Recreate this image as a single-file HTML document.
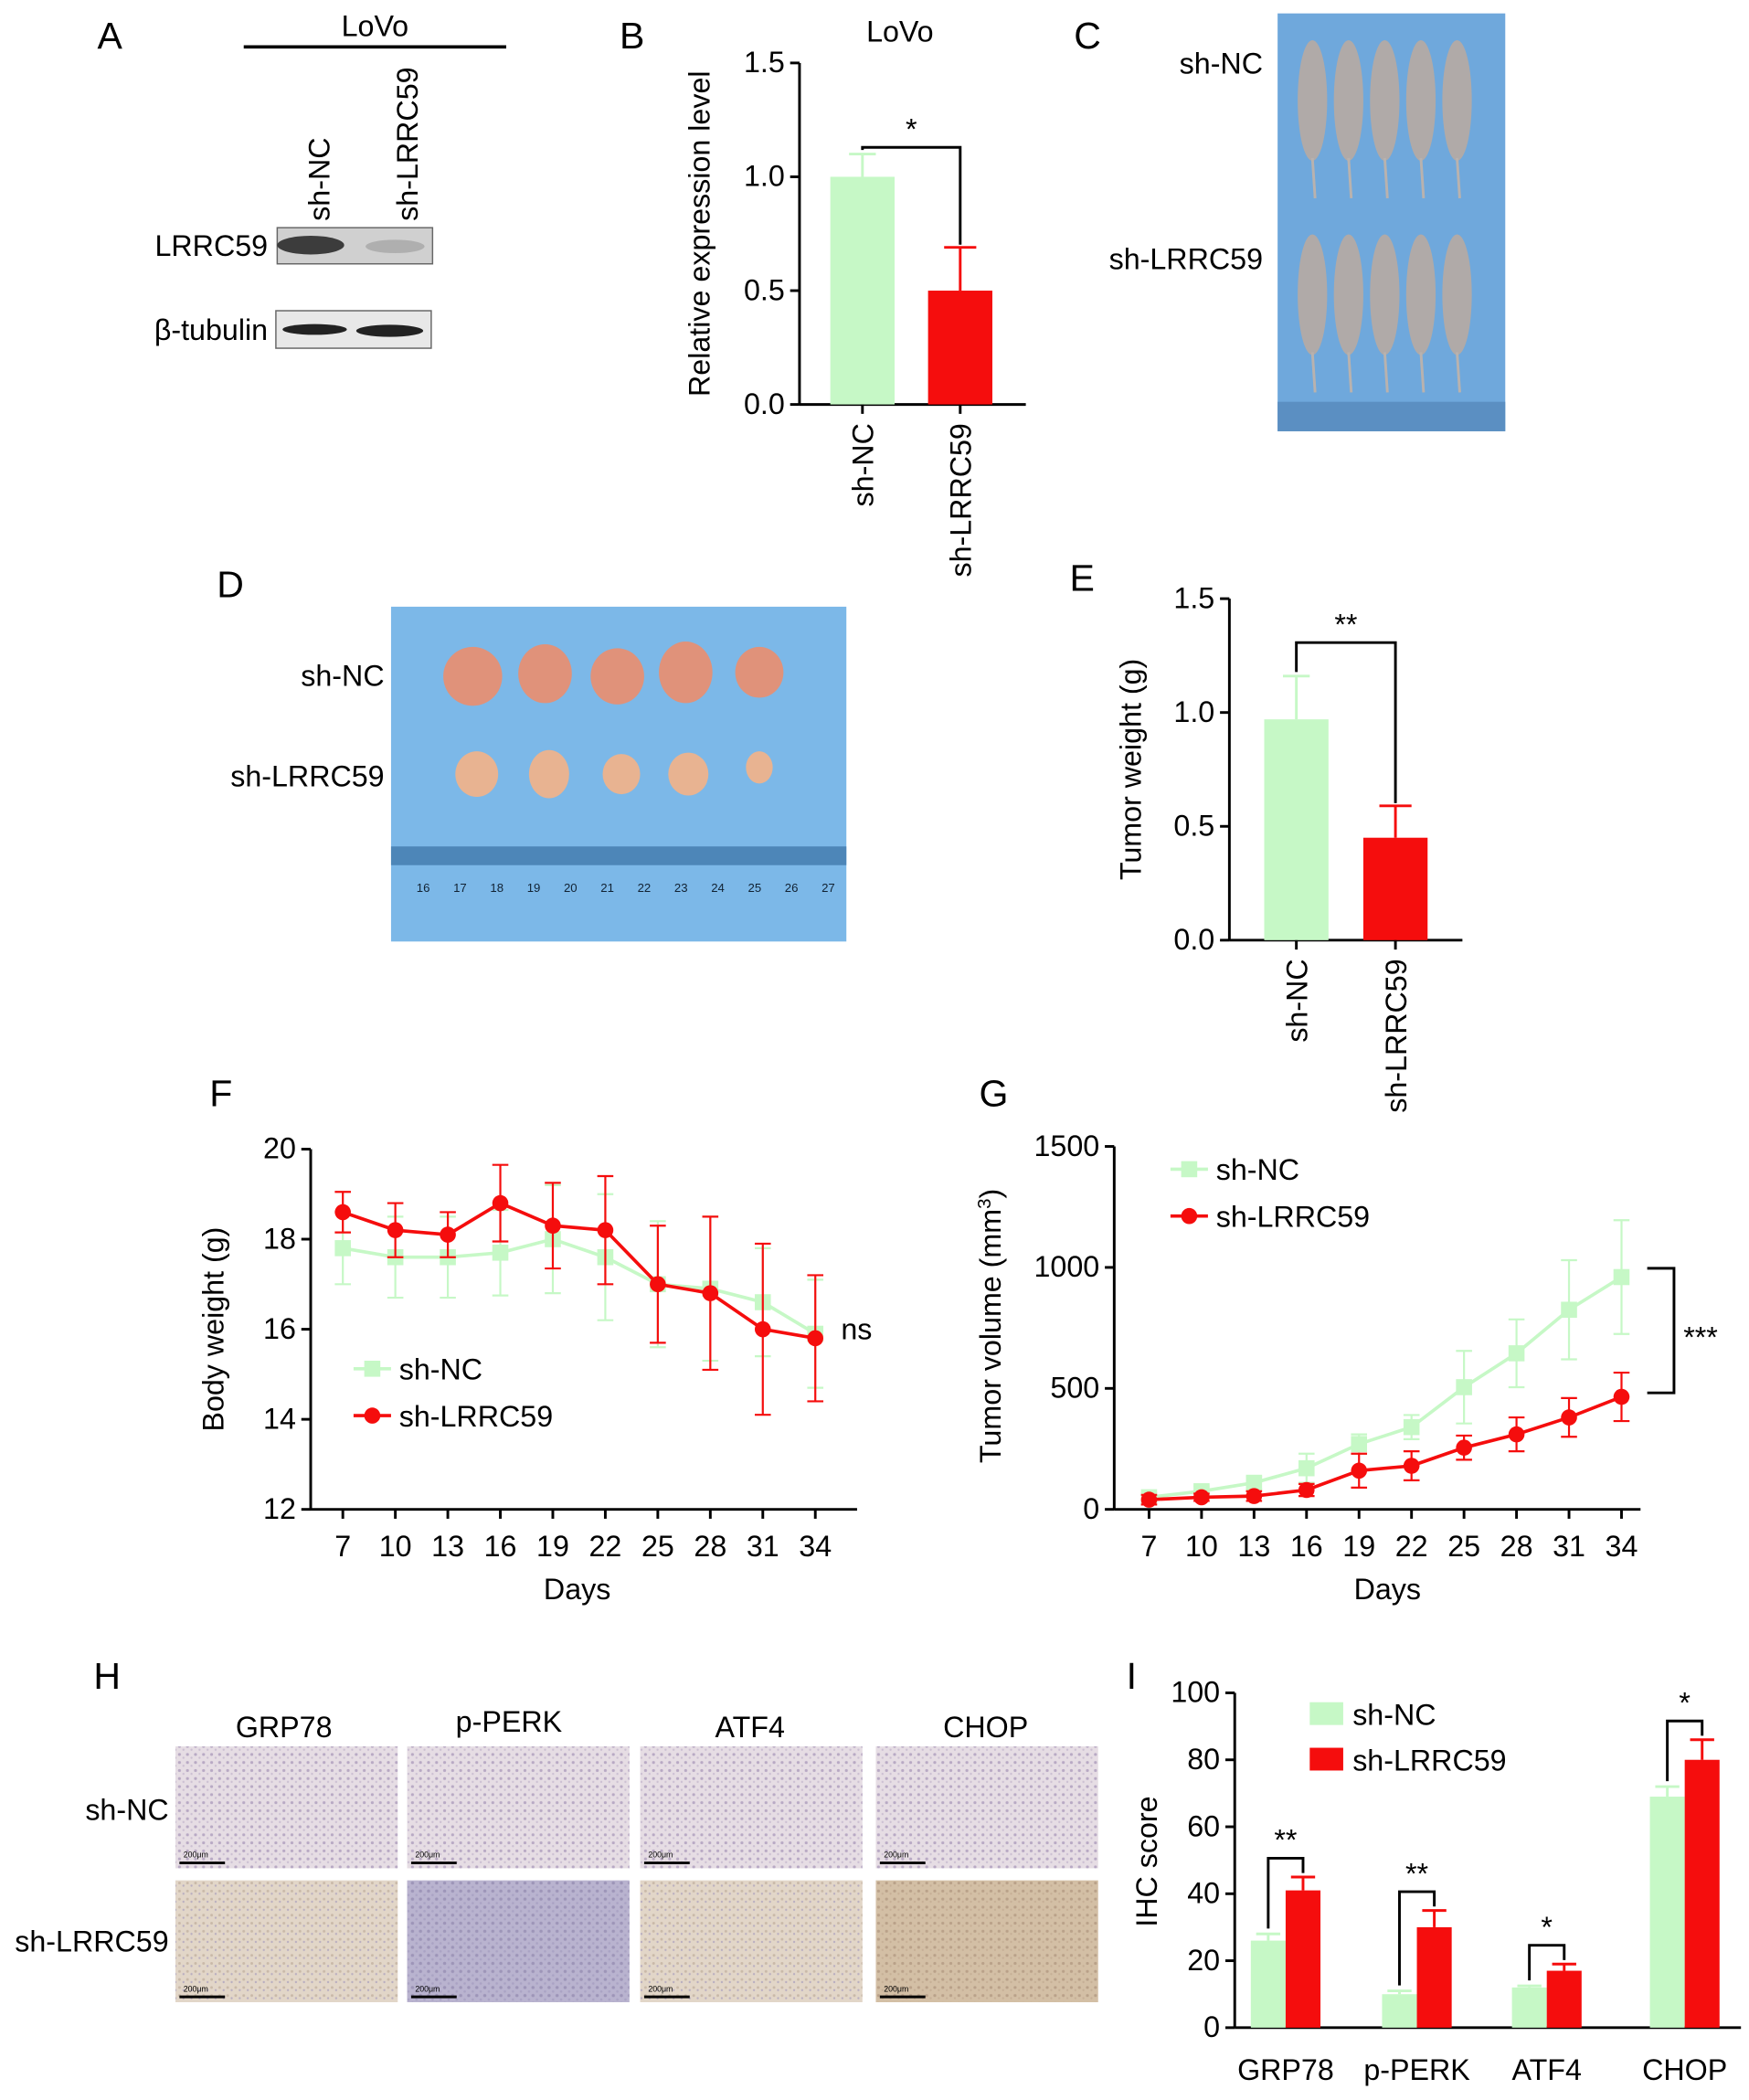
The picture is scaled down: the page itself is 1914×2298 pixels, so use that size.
<!DOCTYPE html>
<html><head><meta charset="utf-8"><style>
html,body{margin:0;padding:0;background:#fff}
svg{display:block;font-family:"Liberation Sans",sans-serif}
</style></head><body>
<svg id="fig" width="1914" height="2298" viewBox="0 0 1306 1568" xmlns="http://www.w3.org/2000/svg">
<defs>
<pattern id="tis1" width="6" height="6" patternUnits="userSpaceOnUse"><rect width="6" height="6" fill="#e6dde4"/><circle cx="2" cy="2" r="1.1" fill="#b8a9c4"/><circle cx="5" cy="4.5" r="0.8" fill="#cbbfd2"/></pattern>
<pattern id="tis2" width="6" height="6" patternUnits="userSpaceOnUse"><rect width="6" height="6" fill="#e2d6c8"/><circle cx="2" cy="2" r="1" fill="#c9b9a8"/><circle cx="5" cy="4" r="0.8" fill="#b9aec0"/></pattern>
<pattern id="tis3" width="6" height="6" patternUnits="userSpaceOnUse"><rect width="6" height="6" fill="#b9b3cf"/><circle cx="2" cy="2" r="1.2" fill="#9d95b8"/><circle cx="5" cy="5" r="0.9" fill="#aaa3c4"/></pattern>
<pattern id="tis4" width="6" height="6" patternUnits="userSpaceOnUse"><rect width="6" height="6" fill="#d3bfa5"/><circle cx="2" cy="2" r="1.1" fill="#b9a189"/><circle cx="5" cy="4" r="0.8" fill="#c6af96"/></pattern>
</defs>

<!-- Panel A -->
<g font-size="22">
<text x="82" y="36" font-size="28" text-anchor="middle">A</text>
<text x="280" y="27" text-anchor="middle">LoVo</text>
<line x1="182" y1="35" x2="378" y2="35" stroke="#000" stroke-width="2.5"/>
<text transform="translate(246,165) rotate(-90)">sh-NC</text>
<text transform="translate(312,165) rotate(-90)">sh-LRRC59</text>
<rect x="207" y="170" width="116" height="27" fill="#d0d0d0" stroke="#666"/>
<ellipse cx="232" cy="183" rx="25" ry="7" fill="#222" opacity="0.85"/>
<ellipse cx="295" cy="184" rx="22" ry="5" fill="#999" opacity="0.6"/>
<rect x="206" y="232" width="116" height="28" fill="#e8e8e8" stroke="#666"/>
<ellipse cx="235" cy="246" rx="24" ry="4" fill="#222"/>
<ellipse cx="291" cy="247" rx="25" ry="4.5" fill="#222"/>
<text x="200" y="191" text-anchor="end">LRRC59</text>
<text x="200" y="254" text-anchor="end">β-tubulin</text>
</g>

<g id="panelB" font-size="22"></g>

<!-- Panel C -->
<g font-size="22">
<text x="812" y="36" font-size="28" text-anchor="middle">C</text>
<rect x="954" y="10" width="170" height="312" fill="#6fa8dc"/>
<rect x="954" y="300" width="170" height="22" fill="#5b8fc2"/>
<g id="mice" fill="#b0aaa8"></g>
<text x="943" y="55" text-anchor="end">sh-NC</text>
<text x="943" y="201" text-anchor="end">sh-LRRC59</text>
</g>

<!-- Panel D -->
<g font-size="22">
<text x="172" y="446" font-size="28" text-anchor="middle">D</text>
<rect x="292" y="453" width="340" height="250" fill="#7cb8e8"/>
<rect x="292" y="632" width="340" height="14" fill="#4d86b8"/>
<g id="tumors"></g>
<text x="287" y="512" text-anchor="end">sh-NC</text>
<text x="287" y="587" text-anchor="end">sh-LRRC59</text>
</g>

<g id="panelE" font-size="22"></g>
<g id="panelF" font-size="22"></g>
<g id="panelG" font-size="22"></g>

<!-- Panel H -->
<g id="panelH" font-size="22">
<text x="80" y="1261" font-size="28" text-anchor="middle">H</text>
<text x="212" y="1297" text-anchor="middle">GRP78</text>
<text x="380" y="1293" text-anchor="middle">p-PERK</text>
<text x="560" y="1297" text-anchor="middle">ATF4</text>
<text x="736" y="1297" text-anchor="middle">CHOP</text>
<text x="126" y="1359" text-anchor="end">sh-NC</text>
<text x="126" y="1457" text-anchor="end">sh-LRRC59</text>
</g>

<g id="panelI" font-size="22"></g>

<script>
var NS="http://www.w3.org/2000/svg";
function mk(p,t,a,txt){var e=document.createElementNS(NS,t);for(var k in a)e.setAttribute(k,a[k]);if(txt!==undefined)e.textContent=txt;p.appendChild(e);return e;}
var GREEN="#c6f8c6",RED="#f50d0d";

// ---------- data ----------
var bCats=["sh-NC","sh-LRRC59"];
var bVals=[1.0,0.5];
var bErr=[0.1,0.19];
var bTicks=[0,0.5,1.0,1.5];

var eCats=["sh-NC","sh-LRRC59"];
var eVals=[0.97,0.45];
var eErr=[0.19,0.14];
var eTicks=[0,0.5,1.0,1.5];

var days=[7,10,13,16,19,22,25,28,31,34];
var fGreen=[17.8,17.6,17.6,17.7,18.0,17.6,17.0,16.9,16.6,15.9];
var fGreenErr=[0.8,0.9,0.9,0.95,1.2,1.4,1.4,1.6,1.2,1.2];
var fRed=[18.6,18.2,18.1,18.8,18.3,18.2,17.0,16.8,16.0,15.8];
var fRedErr=[0.45,0.6,0.5,0.85,0.95,1.2,1.3,1.7,1.9,1.4];
var fTicks=[12,14,16,18,20];

var gGreen=[50,75,110,170,270,340,505,645,825,960];
var gGreenErr=[20,20,25,60,40,50,150,140,205,235];
var gRed=[40,50,55,80,160,180,255,310,380,465];
var gRedErr=[20,15,20,25,70,60,50,70,80,100];
var gTicks=[0,500,1000,1500];

var iCats=["GRP78","p-PERK","ATF4","CHOP"];
var iGreen=[26,10,12,69];
var iGreenErr=[2,1,0.5,3];
var iRed=[41,30,17,80];
var iRedErr=[4,5,2,6];
var iTicks=[0,20,40,60,80,100];

// ---------- bar panel helper ----------
function barPanel(g,o){
  var y=function(v){return o.y0-(v-o.min)/(o.max-o.min)*(o.y0-o.y1);};
  mk(g,"line",{x1:o.ax,y1:o.y1,x2:o.ax,y2:o.y0,stroke:"#000","stroke-width":2});
  mk(g,"line",{x1:o.ax,y1:o.y0,x2:o.xEnd,y2:o.y0,stroke:"#000","stroke-width":2});
  o.ticks.forEach(function(t){
    mk(g,"line",{x1:o.ax-7,y1:y(t),x2:o.ax,y2:y(t),stroke:"#000","stroke-width":2});
    var tx=mk(g,"text",{x:o.ax-11,y:y(t)+7,"text-anchor":"end"},t.toFixed(1));
    
    
  });
  var cols=[GREEN,RED];
  o.cats.forEach(function(c,i){
    var cx=o.cx[i];
    var ey=y(o.vals[i]+o.err[i]);
    mk(g,"line",{x1:cx,y1:ey,x2:cx,y2:y(o.vals[i]),stroke:cols[i],"stroke-width":2});
    mk(g,"line",{x1:cx-(i?12:10),y1:ey,x2:cx+(i?12:10),y2:ey,stroke:cols[i],"stroke-width":2});
    var r=mk(g,"rect",{x:cx-24,y:y(o.vals[i]),width:48,height:o.y0-y(o.vals[i]),fill:cols[i]});
    
    
    mk(g,"line",{x1:cx,y1:o.y0,x2:cx,y2:o.y0+7,stroke:"#000","stroke-width":2});
    var lb=mk(g,"text",{transform:"translate("+(cx+8)+","+(o.y0+14)+") rotate(-90)","text-anchor":"end"},c);
    
    
  });
  var bt=y(Math.max(o.vals[0]+o.err[0],o.vals[1]+o.err[1]))-o.brk;
  mk(g,"polyline",{points:o.cx[0]+","+(y(o.vals[0]+o.err[0])-3)+" "+o.cx[0]+","+bt+" "+o.cx[1]+","+bt+" "+o.cx[1]+","+(y(o.vals[1]+o.err[1])-2),fill:"none",stroke:"#000","stroke-width":2});
  var st=mk(g,"text",{x:(o.cx[0]+o.cx[1])/2,y:bt-6,"text-anchor":"middle"},o.star);
  
  
  var yt=mk(g,"text",{transform:"translate("+o.ytx+","+((o.y0+o.y1)/2)+") rotate(-90)","text-anchor":"middle"},o.ytitle);
  
  
}

// Panel B
var gB=document.getElementById("panelB");
mk(gB,"text",{x:472,y:36,"font-size":28,"text-anchor":"middle"},"B");
mk(gB,"text",{x:672,y:31,"text-anchor":"middle"},"LoVo");
barPanel(gB,{ax:597,y0:302,y1:47,min:0,max:1.5,xEnd:766,cx:[644,717],cats:bCats,vals:bVals,err:bErr,ticks:bTicks,brk:5,star:"*",ytitle:"Relative expression level",ytx:530});

// Panel E
var gE=document.getElementById("panelE");
mk(gE,"text",{x:808,y:441,"font-size":28,"text-anchor":"middle"},"E");
barPanel(gE,{ax:918,y0:702,y1:447,min:0,max:1.5,xEnd:1092,cx:[968,1042],cats:eCats,vals:eVals,err:eErr,ticks:eTicks,brk:25,star:"**",ytitle:"Tumor weight (g)",ytx:852});

// ---------- line panels ----------
function linePanel(g,o){
  var xs=function(d){return o.x0+(d-days[0])/3*39.2;};
  var y=function(v){return o.y0-(v-o.min)/(o.max-o.min)*(o.y0-o.y1);};
  mk(g,"line",{x1:o.ax,y1:o.y1,x2:o.ax,y2:o.y0,stroke:"#000","stroke-width":2});
  mk(g,"line",{x1:o.ax,y1:o.y0,x2:o.xEnd,y2:o.y0,stroke:"#000","stroke-width":2});
  o.ticks.forEach(function(t){
    mk(g,"line",{x1:o.ax-7,y1:y(t),x2:o.ax,y2:y(t),stroke:"#000","stroke-width":2});
    var tx=mk(g,"text",{x:o.ax-11,y:y(t)+7,"text-anchor":"end"},String(t));
    
    
  });
  days.forEach(function(d){
    mk(g,"line",{x1:xs(d),y1:o.y0,x2:xs(d),y2:o.y0+7,stroke:"#000","stroke-width":2});
    var tx=mk(g,"text",{x:xs(d),y:o.y0+35,"text-anchor":"middle"},String(d));
    
    
  });
  var dl=mk(g,"text",{x:o.daysX,y:o.y0+67,"text-anchor":"middle"},"Days");
  
  
  var yt=mk(g,"text",{transform:"translate("+o.ytx+","+((o.y0+o.y1)/2)+") rotate(-90)","text-anchor":"middle"},o.ytitle);
  
  
  [[o.g,o.ge,GREEN,"square","sh-nc"],[o.r,o.re,RED,"circle","sh-lrrc59"]].forEach(function(s){
    var pts=days.map(function(d,i){return xs(d)+","+y(s[0][i]);}).join(" ");
    s[0].forEach(function(v,i){
      var x=xs(days[i]);
      mk(g,"line",{x1:x,y1:y(v-s[1][i]),x2:x,y2:y(v+s[1][i]),stroke:s[2],"stroke-width":1.5});
      mk(g,"line",{x1:x-6,y1:y(v-s[1][i]),x2:x+6,y2:y(v-s[1][i]),stroke:s[2],"stroke-width":1.5});
      mk(g,"line",{x1:x-6,y1:y(v+s[1][i]),x2:x+6,y2:y(v+s[1][i]),stroke:s[2],"stroke-width":1.5});
    });
    var pl=mk(g,"polyline",{points:pts,fill:"none",stroke:s[2],"stroke-width":2.5});
    
    
    s[0].forEach(function(v,i){
      var x=xs(days[i]),m;
      if(s[3]=="square") m=mk(g,"rect",{x:x-6,y:y(v)-6,width:12,height:12,fill:s[2]});
      else m=mk(g,"circle",{cx:x,cy:y(v),r:6,fill:s[2]});
      
      
    });
  });
  var L=o.leg;
  mk(g,"line",{x1:L[0]-14,y1:L[1],x2:L[0]+14,y2:L[1],stroke:GREEN,"stroke-width":2.5});
  mk(g,"rect",{x:L[0]-6,y:L[1]-6,width:12,height:12,fill:GREEN});
  var l1=mk(g,"text",{x:L[0]+20,y:L[1]+8},"sh-NC");
  
  
  mk(g,"line",{x1:L[0]-14,y1:L[1]+35,x2:L[0]+14,y2:L[1]+35,stroke:RED,"stroke-width":2.5});
  mk(g,"circle",{cx:L[0],cy:L[1]+35,r:6,fill:RED});
  var l2=mk(g,"text",{x:L[0]+20,y:L[1]+43},"sh-LRRC59");
  
  
}
var gF=document.getElementById("panelF");
mk(gF,"text",{x:165,y:826,"font-size":28,"text-anchor":"middle"},"F");
linePanel(gF,{ax:232,x0:256,y0:1127,y1:858,min:12,max:20,xEnd:640,ticks:fTicks,g:fGreen,ge:fGreenErr,r:fRed,re:fRedErr,ytitle:"Body weight (g)",ytx:167,leg:[278,1022],daysX:431});
mk(gF,"text",{x:628,y:1000},"ns");

var gG=document.getElementById("panelG");
mk(gG,"text",{x:742,y:826,"font-size":28,"text-anchor":"middle"},"G");
linePanel(gG,{ax:832,x0:858,y0:1127,y1:856,min:0,max:1500,xEnd:1225,ticks:gTicks,g:gGreen,ge:gGreenErr,r:gRed,re:gRedErr,ytitle:"",ytx:747,leg:[888,873],daysX:1036});
var gt=mk(gG,"text",{transform:"translate(747,990) rotate(-90)","text-anchor":"middle"},"Tumor volume (mm");
mk(gt,"tspan",{"baseline-shift":"super","font-size":14},"3");
mk(gt,"tspan",{},")");
mk(gG,"polyline",{points:"1230,947 1250,947 1250,1040 1230,1040",fill:"none",stroke:"#000","stroke-width":2});
mk(gG,"text",{x:1257,y:1006},"***");

// Panel I
var gI=document.getElementById("panelI");
mk(gI,"text",{x:845,y:1261,"font-size":28,"text-anchor":"middle"},"I");
(function(){
  var ax=922,y0=1514,y1=1264;
  var y=function(v){return y0-v/100*(y0-y1);};
  var cx=[960,1058,1155,1258];
  mk(gI,"line",{x1:ax,y1:y1,x2:ax,y2:y0,stroke:"#000","stroke-width":2});
  mk(gI,"line",{x1:ax,y1:y0,x2:1300,y2:y0,stroke:"#000","stroke-width":2});
  iTicks.forEach(function(t){
    mk(gI,"line",{x1:ax-7,y1:y(t),x2:ax,y2:y(t),stroke:"#000","stroke-width":2});
    var tx=mk(gI,"text",{x:ax-11,y:y(t)+7,"text-anchor":"end"},String(t));
    
    
  });
  var stars=["**","**","*","*"];
  iCats.forEach(function(c,i){
    var c0=cx[i];
    [[iGreen,iGreenErr,GREEN,c0-13,"green"],[iRed,iRedErr,RED,c0+13,"red"]].forEach(function(s){
      var v=s[0][i],e=s[1][i];
      mk(gI,"line",{x1:s[3],y1:y(v+e),x2:s[3],y2:y(v),stroke:s[2],"stroke-width":2});
      mk(gI,"line",{x1:s[3]-9,y1:y(v+e),x2:s[3]+9,y2:y(v+e),stroke:s[2],"stroke-width":2});
      var r=mk(gI,"rect",{x:s[3]-13,y:y(v),width:26,height:y0-y(v),fill:s[2]});
      
      
    });
    var top=y(Math.max(iGreen[i]+iGreenErr[i],iRed[i]+iRedErr[i]))-14;
    mk(gI,"polyline",{points:(c0-13)+","+(y(iGreen[i]+iGreenErr[i])-4)+" "+(c0-13)+","+top+" "+(c0+13)+","+top+" "+(c0+13)+","+(y(iRed[i]+iRedErr[i])-3),fill:"none",stroke:"#000","stroke-width":2});
    var st=mk(gI,"text",{x:c0,y:top-6,"text-anchor":"middle"},stars[i]);
    
    
    var lb=mk(gI,"text",{x:c0,y:y0+39,"text-anchor":"middle"},c);
    
    
  });
  var yt=mk(gI,"text",{transform:"translate(864,1390) rotate(-90)","text-anchor":"middle"},"IHC score");
  
  
  mk(gI,"rect",{x:978,y:1271,width:25,height:17,fill:GREEN});
  var l1=mk(gI,"text",{x:1010,y:1288},"sh-NC");
  
  
  mk(gI,"rect",{x:978,y:1305,width:25,height:17,fill:RED});
  var l2=mk(gI,"text",{x:1010,y:1322},"sh-LRRC59");
  
  
})();

// mice shapes (illustration)
var gm=document.getElementById("mice");
[0,1].forEach(function(r){
  for(var k=0;k<5;k++){
    var x=980+k*27,yy=r?165:20;
    mk(gm,"ellipse",{cx:x,cy:yy+55,rx:11,ry:45});
    mk(gm,"line",{x1:x,y1:yy+98,x2:x+2,y2:yy+128,stroke:"#b9b2ae","stroke-width":2});
  }
});
// tumors (illustration)
var gt2=document.getElementById("tumors");
[[353,505,22,22],[407,503,20,22],[461,505,20,21],[512,502,20,23],[567,502,18,19]].forEach(function(t){mk(gt2,"ellipse",{cx:t[0],cy:t[1],rx:t[2],ry:t[3],fill:"#e0927a"});});
[[356,578,16,17],[410,578,15,18],[464,578,14,15],[514,578,15,16],[567,573,10,12]].forEach(function(t){mk(gt2,"ellipse",{cx:t[0],cy:t[1],rx:t[2],ry:t[3],fill:"#e8b391"});});
for(var n=16;n<=27;n++){mk(gt2,"text",{x:316+(n-16)*27.5,y:666,"font-size":9,"text-anchor":"middle",fill:"#123"},String(n));}
// IHC images
var gH=document.getElementById("panelH");
var xsI=[131,304,478,654],pats=[["tis1","tis1","tis1","tis1"],["tis2","tis3","tis2","tis4"]];
[1304,1404].forEach(function(yy,r){xsI.forEach(function(x,c){
  var im=mk(gH,"rect",{x:x,y:yy,width:166,height:91,fill:"url(#"+pats[r][c]+")"});
  
  
  mk(gH,"line",{x1:x+3,y1:yy+87,x2:x+37,y2:yy+87,stroke:"#000","stroke-width":2});
  mk(gH,"text",{x:x+6,y:yy+83,"font-size":6},"200μm");
});});
</script>
</svg>
</body></html>
